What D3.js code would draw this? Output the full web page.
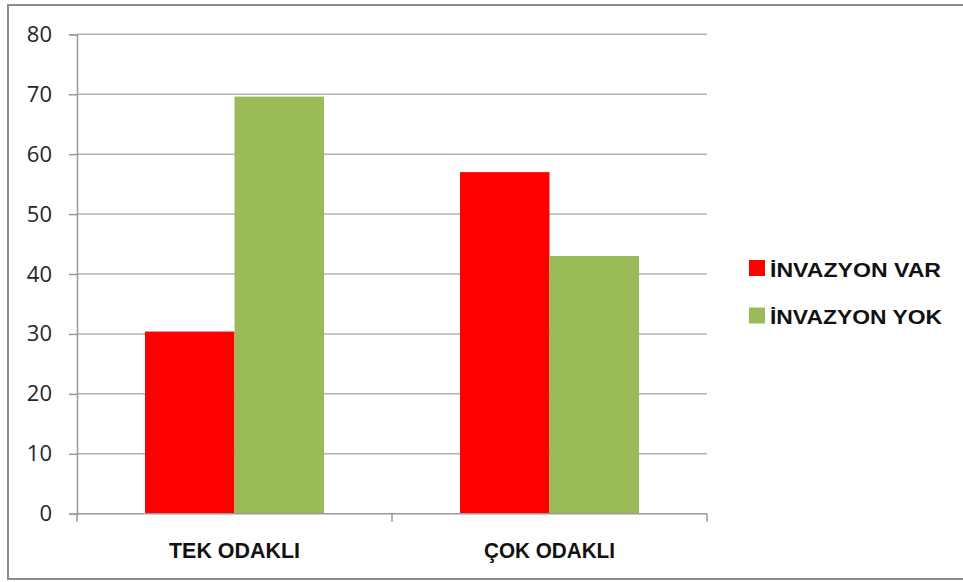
<!DOCTYPE html>
<html>
<head>
<meta charset="utf-8">
<script src="https://cdn.jsdelivr.net/npm/d3@7"></script>
<style>
  html, body { margin: 0; padding: 0; background: #fff; }
  svg { display: block; }
</style>
</head>
<body>
<svg id="chart" width="963" height="582"></svg>
<script>
// Chart data
const categories = ["TEK ODAKLI", "ÇOK ODAKLI"];
const seriesNames = ["İNVAZYON VAR", "İNVAZYON YOK"];
const invazyonVar = [30.4, 57];
const invazyonYok = [69.6, 43];
const seriesColors = ["#ff0000", "#9bbb59"];
const yTicks = [0, 10, 20, 30, 40, 50, 60, 70, 80];

const seriesValues = [invazyonVar, invazyonYok];

const svg = d3.select("#chart");
const W = 963, H = 582;

// Outer frame
svg.append("rect")
  .attr("x", 0).attr("y", 0).attr("width", W).attr("height", H)
  .attr("fill", "#ffffff");
svg.append("rect")
  .attr("x", 8).attr("y", 5).attr("width", W + 10).attr("height", 574)
  .attr("fill", "none").attr("stroke", "#8c8c8c").attr("stroke-width", 2);

const plot = { left: 77, right: 707, top: 34.3, bottom: 513.7 };

const y = d3.scaleLinear().domain([0, 80]).range([plot.bottom, plot.top]);
const x = d3.scaleBand().domain(categories).range([plot.left, plot.right])
  .paddingInner(0).paddingOuter(0);
const groupWidth = 179;
const xs = d3.scaleBand().domain(seriesNames).range([0, groupWidth]).padding(0);

// Horizontal gridlines
svg.append("g")
  .selectAll("line")
  .data(yTicks.filter(t => t > 0))
  .join("line")
  .attr("x1", plot.left).attr("x2", plot.right)
  .attr("y1", d => y(d)).attr("y2", d => y(d))
  .attr("stroke", "#b3b3b3").attr("stroke-width", 1.5);

// Bars
const groups = svg.append("g")
  .selectAll("g")
  .data(categories)
  .join("g")
  .attr("transform", d => `translate(${x(d) + (x.bandwidth() - groupWidth) / 2},0)`);

groups.selectAll("rect")
  .data((c, i) => seriesNames.map((s, k) => ({ s, k, v: seriesValues[k][i] })))
  .join("rect")
  .attr("x", d => xs(d.s))
  .attr("width", xs.bandwidth())
  .attr("y", d => y(d.v))
  .attr("height", d => y(0) - y(d.v))
  .attr("fill", d => seriesColors[d.k]);

// Y axis
const yAxis = d3.axisLeft(y).tickValues(yTicks).tickSize(8).tickPadding(17)
  .tickFormat(d3.format("d"));
const gy = svg.append("g").attr("transform", `translate(${plot.left},0)`).call(yAxis);
gy.select(".domain").attr("stroke", "#999").attr("stroke-width", 1.5);
gy.selectAll(".tick line").attr("stroke", "#999").attr("stroke-width", 1.5);
gy.selectAll(".tick text")
  .attr("font-family", "'Open Sans', 'Liberation Sans', sans-serif")
  .attr("font-size", 22).attr("fill", "#262626");

// X axis: ticks at the band boundaries
const xBounds = [plot.left, plot.left + x.bandwidth(), plot.right];
svg.append("line")
  .attr("x1", plot.left).attr("x2", plot.right)
  .attr("y1", plot.bottom).attr("y2", plot.bottom)
  .attr("stroke", "#999").attr("stroke-width", 1.5);
svg.append("g").selectAll("line")
  .data(xBounds)
  .join("line")
  .attr("x1", d => d).attr("x2", d => d)
  .attr("y1", plot.bottom).attr("y2", plot.bottom + 8)
  .attr("stroke", "#999").attr("stroke-width", 1.5);

svg.append("g").selectAll("text")
  .data(categories)
  .join("text")
  .attr("x", d => x(d) + x.bandwidth() / 2)
  .attr("y", 558)
  .attr("text-anchor", "middle")
  .attr("font-family", "'Liberation Sans', Arial, sans-serif")
  .attr("font-weight", "bold")
  .attr("font-size", 22)
  .attr("fill", "#111")
  .attr("textLength", 131)
  .attr("lengthAdjust", "spacingAndGlyphs")
  .text(d => d);

// Legend
const legend = svg.append("g").attr("transform", "translate(749,260)");
const items = legend.selectAll("g")
  .data(seriesNames)
  .join("g")
  .attr("transform", (d, i) => `translate(0,${i * 47.5})`);
items.append("rect")
  .attr("width", 16).attr("height", 16)
  .attr("fill", (d, i) => seriesColors[i]);
items.append("text")
  .attr("x", 21).attr("y", 16.5)
  .attr("font-family", "'Liberation Sans', Arial, sans-serif")
  .attr("font-weight", "bold")
  .attr("font-size", 19.5)
  .attr("fill", "#111")
  .attr("textLength", (d, i) => i === 0 ? 171 : 172)
  .attr("lengthAdjust", "spacingAndGlyphs")
  .text(d => d);
</script>
</body>
</html>
